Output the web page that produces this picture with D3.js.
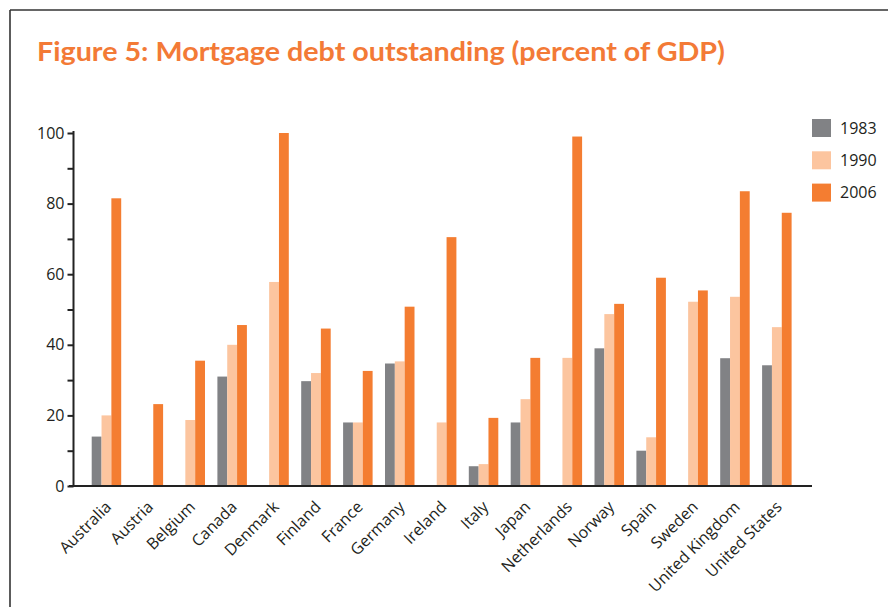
<!DOCTYPE html>
<html>
<head>
<meta charset="utf-8">
<script src="https://cdn.jsdelivr.net/npm/d3@7"></script>
<style>
  body { margin: 0; background: #fff; }
  svg { display: block; }
</style>
</head>
<body>
<div id="chart"></div>
<script>
// chart data
var countries = ["Australia", "Austria", "Belgium", "Canada", "Denmark", "Finland", "France",
  "Germany", "Ireland", "Italy", "Japan", "Netherlands", "Norway", "Spain", "Sweden",
  "United Kingdom", "United States"];
var years = ["1983", "1990", "2006"];
var v1983 = [14, null, null, 31, null, 29.7, 18, 34.7, null, 5.6, 18, null, 39, 10, null, 36.2, 34.2];
var v1990 = [20, null, 18.7, 40, 57.8, 32, 18, 35.3, 18, 6.2, 24.6, 36.3, 48.7, 13.8, 52.2, 53.6, 45];
var v2006 = [81.5, 23.2, 35.5, 45.6, 100, 44.6, 32.6, 50.8, 70.5, 19.3, 36.3, 99, 51.6, 59, 55.4, 83.5, 77.4];
var yTicks = [0, 20, 40, 60, 80, 100];
var colors = ["#818285", "#fcc59f", "#f47d31"];

var W = 888, H = 607;
var svg = d3.select("#chart")
  .append("svg")
    .attr("width", W)
    .attr("height", H);

// frame
svg.append("line").attr("x1", 10).attr("y1", 10).attr("x2", W).attr("y2", 10)
  .attr("stroke", "#333").attr("stroke-width", 1.6);
svg.append("line").attr("x1", 10).attr("y1", 10).attr("x2", 10).attr("y2", H)
  .attr("stroke", "#333").attr("stroke-width", 1.6);

// title
svg.append("text")
  .attr("x", 37)
  .attr("y", 61)
  .attr("textLength", 688)
  .attr("lengthAdjust", "spacingAndGlyphs")
  .style("font-family", "Lato, 'Open Sans', sans-serif")
  .style("font-weight", "bold")
  .style("font-size", "27px")
  .attr("fill", "#f37a36")
  .text("Figure 5: Mortgage debt outstanding (percent of GDP)");

var y = d3.scaleLinear()
  .domain([0, 100])
  .range([486, 133]);

var x0 = d3.scaleBand()
  .domain(countries)
  .range([85.5, 797.8])
  .padding(0);

var x1 = d3.scaleBand()
  .domain(years)
  .range([(x0.bandwidth() - 29.5) / 2, (x0.bandwidth() + 29.5) / 2])
  .padding(0);

var series = [v1983, v1990, v2006];

// bars
series.forEach(function(vals, si) {
  svg.append("g")
    .selectAll("rect")
    .data(countries.map(function(c, i) { return {c: c, v: vals[i]}; })
      .filter(function(d) { return d.v !== null; }))
    .enter()
    .append("rect")
      .attr("x", function(d) { return x0(d.c) + x1(years[si]); })
      .attr("y", function(d) { return y(d.v); })
      .attr("width", x1.bandwidth())
      .attr("height", function(d) { return y(0) - y(d.v); })
      .attr("fill", colors[si]);
});

// y axis
var yAxis = svg.append("g")
  .attr("transform", "translate(73.5,0)")
  .call(d3.axisLeft(y).tickValues(d3.range(0, 101, 10)).tickSize(6)
    .tickFormat(function(d) { return yTicks.indexOf(d) >= 0 ? d : ""; }));
yAxis.select(".domain").attr("stroke", "#222").attr("stroke-width", 2)
  .attr("d", "M0,131V486");
yAxis.selectAll(".tick line").attr("stroke", "#222").attr("stroke-width", 2);
yAxis.selectAll(".tick text")
  .attr("x", -9)
  .style("font-family", "'Open Sans', sans-serif")
  .style("font-size", "16px")
  .attr("fill", "#231f20");

// x axis
svg.append("line")
  .attr("x1", 69).attr("x2", 812)
  .attr("y1", 486).attr("y2", 486)
  .attr("stroke", "#222").attr("stroke-width", 2);

svg.append("g")
  .selectAll("text")
  .data(countries)
  .enter()
  .append("text")
    .attr("transform", function(d) {
      return "translate(" + (x0(d) + x0.bandwidth() / 2 - 2) + ",500)rotate(-45)";
    })
    .attr("text-anchor", "end")
    .attr("dy", "0.7em")
    .style("font-family", "'Open Sans', sans-serif")
    .style("font-size", "16px")
    .attr("fill", "#231f20")
    .text(function(d) { return d; });

// legend
var legend = svg.append("g").selectAll("g")
  .data(years)
  .enter()
  .append("g")
    .attr("transform", function(d, i) { return "translate(812," + (119 + i * 32.3) + ")"; });
legend.append("rect")
  .attr("width", 19).attr("height", 18)
  .attr("fill", function(d, i) { return colors[i]; });
legend.append("text")
  .attr("x", 28).attr("y", 9)
  .attr("dy", "0.35em")
  .style("font-family", "'Open Sans', sans-serif")
  .style("font-size", "16px")
  .attr("fill", "#231f20")
  .text(function(d) { return d; });
</script>
</body>
</html>
